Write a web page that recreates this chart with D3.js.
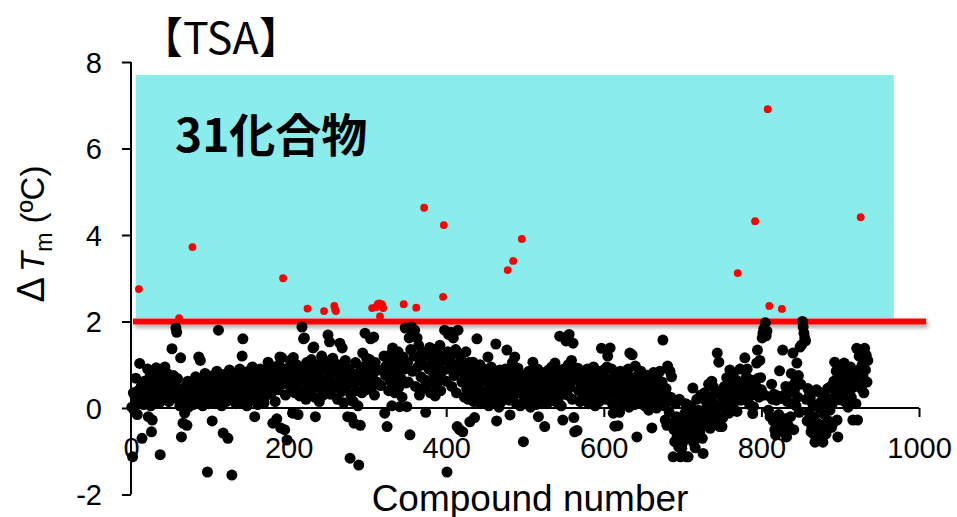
<!DOCTYPE html>
<html>
<head>
<meta charset="utf-8">
<script src="https://cdn.jsdelivr.net/npm/d3@7"></script>
<style>
  body { margin: 0; background: #fff; }
  svg text { font-family: "Liberation Sans", Arial, sans-serif; fill: #000; }
</style>
</head>
<body>
<script>
var width = 957, height = 517;

// dTm (degC) for each compound, compound number = index + 1
var dTm = [
  0.02,-1.13,0.35,-0.05,0.28,0.69,0.12,-0.15,0.4,2.75,1.03,0.22,0.5,-0.7,0.31,0.08,0.62,0.45,0.18,0.55,0.9,-0.2,0.36,0.72,0.05,
  -0.55,-0.28,0.85,0.41,0.62,0.2,0.93,0.5,0.3,0.77,0.12,-1.08,0.58,0.88,0.44,0.66,0.25,0.95,0.52,0.35,0.8,0.6,0.15,0.7,0.48,
  0.62,1.37,0.45,0.75,0.3,0.55,1.85,1.75,0.68,0.2,2.08,0.05,1.16,-0.67,0.38,-0.35,0.1,-0.12,0.5,0.25,-0.4,0.62,0.02,0.35,0.55,
  0.18,0.42,3.72,0.08,0.55,0.3,0.72,0.15,0.5,0.35,1.18,0.6,1.1,0.25,0.45,0.05,0.65,0.38,0.8,0.2,0.52,-1.48,0.7,0.1,0.42,
  0.58,0.28,-0.3,0.75,0.45,0.12,0.62,0.35,0.85,0.5,1.8,0.22,0.68,0.4,0.05,0.55,-0.58,0.3,0.78,0.48,0.15,0.62,-0.7,0.38,0.88,
  0.45,0.2,-1.55,0.65,0.32,0.8,0.5,0.1,0.58,0.35,0.72,0.25,0.9,0.45,0.15,1.2,1.6,0.55,0.3,0.78,0.4,0.05,0.62,0.85,0.28,
  0.5,0.7,0.18,0.95,0.42,0.6,-0.2,0.35,0.82,0.55,0.08,0.68,0.4,0.9,0.25,0.62,0.48,0.75,0.12,0.58,0.85,0.3,0.7,1.06,0.45,
  0.6,0.88,0.35,0.72,-0.35,0.95,0.5,0.15,0.8,-0.25,0.65,0.42,1.0,1.18,-0.46,1.17,0.55,3.0,0.78,-0.5,0.3,0.9,-0.74,0.62,0.85,
  0.72,1.1,0.45,0.9,-0.12,1.17,0.6,0.35,0.82,1.0,0.5,-0.15,0.75,0.28,0.95,0.65,1.87,0.4,1.6,1.62,0.85,0.2,1.05,2.3,0.55,
  0.78,0.92,0.38,1.12,0.6,1.39,1.41,0.25,-0.2,0.85,0.5,1.0,0.7,0.15,0.95,0.45,1.2,0.62,0.3,2.24,0.88,0.55,1.08,0.4,1.69,
  0.75,1.53,0.32,0.95,0.6,1.15,0.45,2.36,2.28,2.24,0.82,0.2,1.0,0.55,1.5,0.7,0.38,1.39,0.9,0.12,0.65,1.1,0.48,0.85,-0.2,
  0.55,0.9,-1.16,0.3,-0.22,0.72,0.15,-0.35,0.6,1.05,0.4,0.8,0.05,-1.32,0.68,-0.4,0.95,0.35,1.27,0.58,0.85,1.73,0.42,1.15,1.0,
  0.65,0.9,1.12,1.6,0.45,2.31,0.78,1.64,0.3,1.05,2.33,0.6,2.4,0.88,2.42,2.12,0.52,2.4,2.38,2.31,1.2,-0.12,0.75,0.98,-0.43,
  0.85,0.4,1.1,0.62,1.25,0.05,1.39,0.7,0.95,0.35,1.15,0.55,0.82,1.3,0.48,0.03,1.0,0.68,0.25,1.18,2.4,0.9,1.85,0.58,0.03,
  1.05,0.6,1.62,-0.62,1.35,1.87,0.85,1.7,1.2,1.8,0.5,2.32,1.62,0.95,1.45,0.3,1.1,0.72,1.3,0.45,1.0,4.63,0.65,-0.1,1.22,
  0.55,1.27,0.9,1.4,0.35,1.0,1.15,0.6,0.8,1.35,0.28,1.05,0.53,1.25,0.7,0.95,1.45,0.4,1.2,0.85,2.57,4.23,1.8,1.1,0.62,
  -1.48,1.3,1.7,0.9,1.15,1.75,0.5,1.25,1.62,0.75,1.0,1.35,0.35,-0.43,1.8,0.85,-0.5,1.2,1.1,0.6,-0.55,0.95,0.25,0.7,1.3,
  0.45,0.88,0.2,1.05,-0.32,0.65,0.4,0.95,1.06,0.15,-0.22,0.75,0.5,1.6,0.3,0.85,0.58,1.0,0.1,0.68,0.38,0.9,0.22,0.62,0.8,
  0.35,0.7,1.18,0.05,0.55,0.28,0.95,0.42,0.12,0.8,0.6,0.2,1.48,-0.3,0.5,0.65,0.02,0.88,0.38,0.15,0.72,0.45,0.25,0.58,0.9,
  0.4,1.34,3.19,0.62,0.18,-0.16,0.85,0.5,1.05,3.4,0.3,1.18,0.7,0.1,0.55,0.92,0.35,0.65,0.05,0.78,3.91,0.42,-0.78,0.25,0.6,
  0.45,0.12,0.7,0.3,0.85,0.5,0.02,0.62,0.35,1.06,0.2,0.75,0.48,0.08,0.58,0.9,-0.2,0.4,0.68,0.15,0.52,0.82,0.28,0.6,-0.43,
  0.35,0.72,0.1,0.55,0.88,0.4,0.2,0.65,0.95,0.3,0.5,0.78,1.04,0.15,0.6,0.42,0.85,0.25,1.66,0.7,0.05,0.55,-0.28,0.9,0.38,
  0.62,1.55,0.8,0.3,1.0,1.7,0.48,0.75,1.1,0.2,1.5,-0.22,-0.55,0.65,0.9,-0.52,0.92,0.4,0.7,0.15,0.55,0.85,0.3,0.62,0.45,
  0.72,0.25,0.58,0.9,0.35,0.1,0.65,0.48,0.82,0.2,0.55,0.95,0.4,0.05,0.7,0.3,0.6,0.85,0.15,0.5,0.75,1.38,0.28,0.62,0.88,
  0.45,0.7,0.2,0.95,1.2,0.55,0.3,1.39,0.65,0.9,0.1,-0.12,0.5,-0.42,0.78,0.35,0.6,-0.41,0.25,-0.1,0.85,0.4,0.05,0.68,0.3,
  0.55,0.8,0.15,0.62,0.38,0.9,0.02,1.27,0.5,0.7,1.23,0.25,0.58,0.08,0.97,0.42,-0.67,0.75,0.3,0.6,0.12,0.85,0.48,0.2,0.65,
  0.35,0.05,0.58,0.25,0.76,0.4,-0.05,0.62,0.18,0.5,-0.46,0.3,0.82,0.1,0.7,0.45,0.0,0.55,0.65,0.22,0.85,0.38,0.08,0.6,1.57,
  0.3,0.05,-0.28,0.45,-0.4,0.97,0.15,-0.1,0.85,0.25,0.72,-0.35,-1.13,-0.5,-0.78,0.1,-0.2,-0.67,-0.35,-0.9,0.2,-1.13,-0.55,-0.93,-0.8,
  -0.3,-0.6,-0.12,0.1,-1.13,-0.45,-1.13,-0.25,-0.7,0.05,-0.5,-0.43,0.46,-0.8,-0.15,-0.92,-0.35,0.2,-0.6,-0.05,-0.4,-0.55,0.3,-0.2,-0.7,
  -1.05,-0.15,0.35,-0.4,0.15,0.03,-0.3,0.55,-0.1,-0.47,0.25,0.62,-0.2,0.49,0.1,-0.1,0.4,-0.35,1.27,-0.28,1.06,-0.43,0.3,0.05,-0.43,
  -0.22,0.2,0.5,-0.05,0.35,0.7,0.1,0.45,-0.12,0.88,0.28,0.6,0.0,0.75,0.4,0.15,0.42,0.65,-0.08,3.12,0.3,0.55,0.9,0.18,0.48,
  0.35,0.6,0.2,1.16,0.5,0.72,0.9,0.25,0.55,0.08,0.4,0.65,0.3,-0.13,0.03,0.35,4.32,0.5,1.04,1.34,0.69,0.25,1.1,0.7,0.42,
  1.62,1.73,1.83,0.3,1.97,1.67,1.78,6.91,-0.05,2.36,-0.2,0.25,0.55,0.2,-0.3,0.32,-0.5,-0.62,0.18,-0.4,0.28,-0.15,0.86,-0.35,0.22,
  2.29,1.34,-0.55,0.3,-0.25,0.5,-0.67,0.15,-0.4,0.35,0.49,-0.2,0.8,0.1,1.27,-0.5,0.42,0.6,0.05,1.04,0.25,0.75,-0.1,1.41,0.55,
  1.46,2.0,1.87,1.73,1.62,1.55,0.2,-0.3,0.45,-0.1,0.3,0.25,-0.55,-0.44,0.1,-0.6,-0.2,-0.79,0.05,0.42,-0.35,0.38,-0.5,0.0,-0.7,
  0.15,-0.4,-0.79,0.3,-0.15,0.25,-0.6,0.05,0.45,-0.3,0.2,-0.05,0.5,-0.45,0.1,-0.35,0.62,1.06,0.3,0.85,-0.28,-0.67,0.4,0.7,0.19,
  0.6,0.9,0.35,0.75,1.04,0.15,0.5,0.55,0.85,0.02,0.4,0.7,0.95,0.25,0.46,-0.28,0.6,0.8,0.65,0.1,1.38,-0.28,0.5,1.2,0.9,
  4.41,0.45,1.0,0.72,0.35,1.38,0.88,1.22,0.6,1.1
];

var threshold = 2;              // hits: dTm > 2 degC
var hitZone = [6, 968, 2.08, 7.7];  // x0, x1, y0, y1 of the shaded region
var xTicks = [0, 200, 400, 600, 800, 1000];
var yTicks = [-2, 0, 2, 4, 6, 8];
var titleText = "【TSA】";
var hitText = "31化合物";

var xScale = d3.scaleLinear().domain([0, 1000]).range([131, 919]);
var yScale = d3.scaleLinear().domain([-2, 8]).range([494.5, 62]);

var svg = d3.select("body").append("svg")
    .attr("width", width)
    .attr("height", height);

// drop shadow for the threshold line
var defs = svg.append("defs");
var shadow = defs.append("filter").attr("id", "shadow")
    .attr("filterUnits", "userSpaceOnUse")
    .attr("x", 100).attr("y", 300).attr("width", 860).attr("height", 60);
shadow.append("feDropShadow")
    .attr("dx", 2).attr("dy", 3).attr("stdDeviation", 2)
    .attr("flood-color", "#000").attr("flood-opacity", 0.35);

// shaded hit region
svg.append("rect")
    .attr("x", xScale(hitZone[0]))
    .attr("y", yScale(hitZone[3]))
    .attr("width", xScale(hitZone[1]) - xScale(hitZone[0]))
    .attr("height", yScale(hitZone[2]) - yScale(hitZone[3]))
    .attr("fill", "#8aeceb");

// axes
var xAxis = d3.axisBottom(xScale).tickValues(xTicks).tickSize(9).tickFormat(function(d) { return String(d); });
var yAxis = d3.axisLeft(yScale).tickValues(yTicks).tickSize(9).tickPadding(20)
    .tickFormat(function(d) { return d < 0 ? "-" + Math.abs(d) : String(d); });

var gx = svg.append("g")
    .attr("transform", "translate(0," + yScale(0) + ")")
    .call(xAxis);
gx.selectAll("text").attr("y", 50).attr("dy", null).style("font-size", "29px");

var gy = svg.append("g")
    .attr("transform", "translate(" + xScale(0) + ",0)")
    .call(yAxis);
gy.selectAll("text").style("font-size", "29px").attr("dy", "0.36em");

svg.selectAll(".domain").attr("stroke", "#000").attr("stroke-width", 2);
svg.selectAll(".tick line").attr("stroke", "#000").attr("stroke-width", 2);
gx.select(".domain").attr("d", "M" + xScale(0) + ",0H" + xScale(1000));
gy.select(".domain").attr("d", "M0," + yScale(-2) + "V" + yScale(8));

// threshold line
svg.append("rect")
    .attr("x", xScale(2.5))
    .attr("y", yScale(threshold) - 3)
    .attr("width", xScale(1009) - xScale(2.5))
    .attr("height", 6)
    .attr("fill", "#ff0000")
    .attr("filter", "url(#shadow)");

// points
var pts = dTm.map(function(v, i) { return {n: i + 1, v: v}; });

svg.append("g").selectAll("circle")
    .data(pts.filter(function(d) { return d.v <= threshold; }))
  .enter().append("circle")
    .attr("cx", function(d) { return xScale(d.n); })
    .attr("cy", function(d) { return yScale(d.v); })
    .attr("r", 5.5)
    .attr("fill", "#000");

svg.append("g").selectAll("circle")
    .data(pts.filter(function(d) { return d.v > threshold; }))
  .enter().append("circle")
    .attr("cx", function(d) { return xScale(d.n); })
    .attr("cy", function(d) { return yScale(d.v); })
    .attr("r", 3.9)
    .attr("fill", "#ff0000");

// labels
svg.append("text")
    .attr("x", 530).attr("y", 511)
    .attr("text-anchor", "middle")
    .style("font-size", "37px")
    .text("Compound number");

var yl = svg.append("text")
    .attr("transform", "translate(44,234) rotate(-90)")
    .attr("text-anchor", "middle")
    .style("font-size", "33px");
yl.append("tspan").style("font-size", "38px").text("Δ");
yl.append("tspan").attr("dx", 5).style("font-style", "italic").text("T");
yl.append("tspan").attr("dy", 8).style("font-size", "23px").text("m");
yl.append("tspan").attr("dy", -8).text(" (ºC)");

svg.append("text")
    .attr("x", 140).attr("y", 54)
    .style("font-family", "'Noto Sans CJK JP', sans-serif")
    .style("font-size", "43px")
    .text(titleText);

svg.append("text")
    .attr("x", 175).attr("y", 152)
    .style("font-family", "'Noto Sans CJK JP', sans-serif")
    .style("font-weight", "bold")
    .style("font-size", "46px")
    .text(hitText);
</script>
</body>
</html>
